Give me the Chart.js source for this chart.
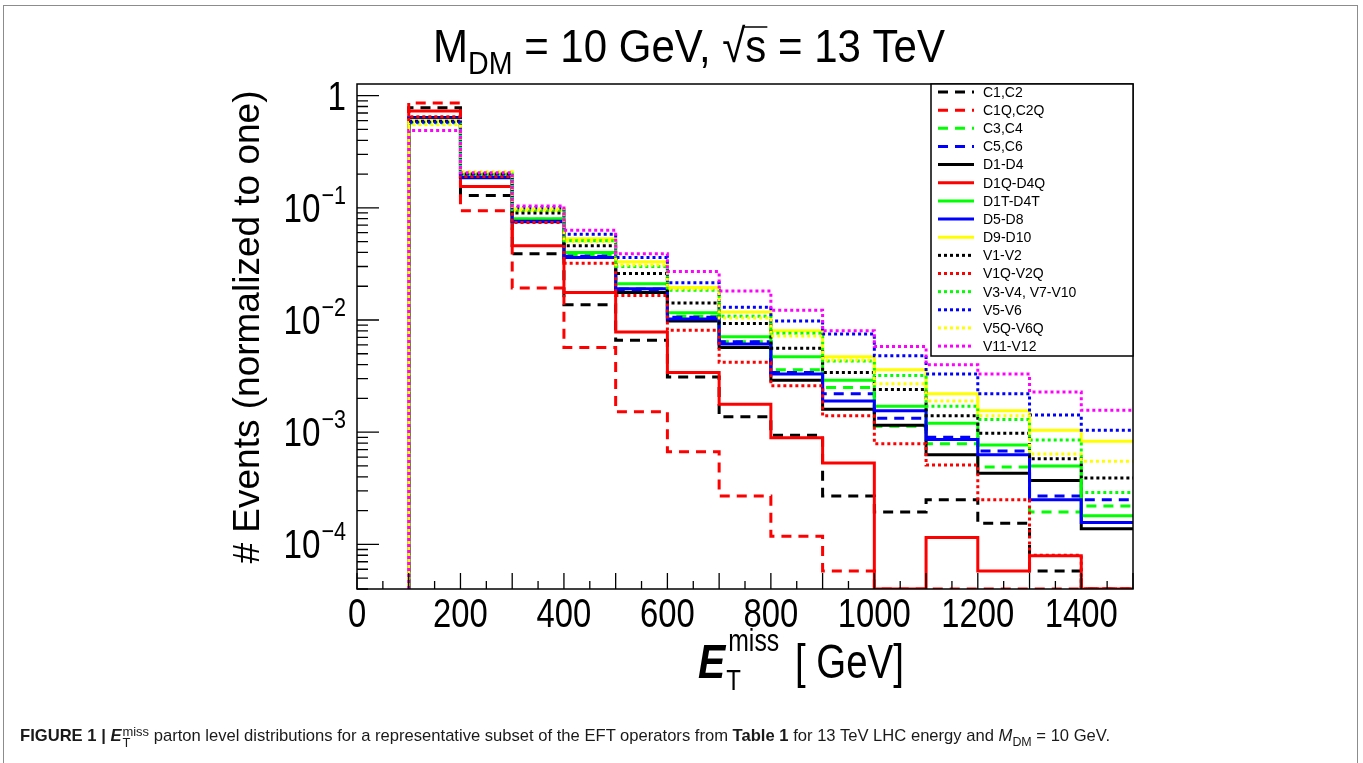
<!DOCTYPE html>
<html>
<head>
<meta charset="utf-8">
<script src="https://cdn.jsdelivr.net/npm/chart.js@4.4.0/dist/chart.umd.min.js"></script>
<style>
  body { margin: 0; background: #fff; }
  #wrap { position: relative; width: 1363px; height: 763px; overflow: hidden; }
  #frame { position: absolute; left: 3px; top: 5px; width: 1353px; height: 800px; border: 1.5px solid #8c8c8c; }
  canvas { position: absolute; left: 0; top: 0; }
  #caption { position: absolute; left: 20px; top: 726px; font: 16.6px "Liberation Sans", Arial, sans-serif; white-space: nowrap; color: #1a1a1a; }
  #caption .ss { display: inline-block; vertical-align: -0.45em; line-height: 0.85; font-size: 0.78em; margin-left: 1px; }
  #caption .ss span { display: block; }
  #caption sub { font-size: 0.75em; }
</style>
</head>
<body>
<div id="wrap">
  <div id="frame"></div>
  <canvas id="chart" width="1363" height="763"></canvas>
  <div id="caption"><b>FIGURE 1 | <i>E</i></b><span class="ss"><span>miss</span><span>T</span></span> parton level distributions for a representative subset of the EFT operators from <b>Table 1</b> for 13 TeV LHC energy and <i>M</i><sub>DM</sub> = 10 GeV.</div>
</div>
<script>
// bin edges in GeV, one value per bin below (100-200 ... 1400-1500)
const binEdges = [100, 200, 300, 400, 500, 600, 700, 800, 900, 1000, 1100, 1200, 1300, 1400, 1500];

const labels = ['C1,C2', 'C1Q,C2Q', 'C3,C4', 'C5,C6', 'D1-D4', 'D1Q-D4Q', 'D1T-D4T', 'D5-D8',
  'D9-D10', 'V1-V2', 'V1Q-V2Q', 'V3-V4, V7-V10', 'V5-V6', 'V5Q-V6Q', 'V11-V12'];

// normalized events per bin (0 = empty bin)
const c1c2   = [0.78, 0.129, 0.039, 0.0137, 0.0066, 0.0031, 0.00137, 0.00094, 0.00027, 0.000194, 0.00025, 0.000154, 0.000058, 0];
const c1qc2q = [0.86, 0.094, 0.0193, 0.0057, 0.00152, 0.00067, 0.00027, 0.000118, 0.000058, 0, 0, 0, 0, 0];
const c3c4   = [0.62, 0.19, 0.079, 0.038, 0.019, 0.0108, 0.0064, 0.0036, 0.0025, 0.00113, 0.00079, 0.00049, 0.000194, 0.00022];
const c5c6   = [0.64, 0.19, 0.077, 0.037, 0.0186, 0.0106, 0.0064, 0.0034, 0.0022, 0.00133, 0.0009, 0.00068, 0.00027, 0.00025];
const d1d4   = [0.64, 0.185, 0.075, 0.036, 0.0176, 0.0098, 0.0057, 0.0029, 0.0016, 0.00115, 0.00063, 0.00043, 0.00037, 0.000138];
const d1qd4q = [0.73, 0.155, 0.046, 0.0176, 0.0078, 0.0034, 0.00177, 0.00089, 0.00053, 0, 0.000115, 0.000058, 0.000079, 0];
const d1td4t = [0.62, 0.19, 0.080, 0.040, 0.021, 0.0116, 0.0071, 0.0047, 0.0029, 0.0017, 0.0012, 0.00077, 0.0005, 0.00018];
const d5d8   = [0.63, 0.187, 0.076, 0.036, 0.019, 0.0102, 0.0061, 0.0033, 0.0019, 0.00155, 0.00086, 0.00063, 0.00025, 0.000157];
const d9d10  = [0.60, 0.20, 0.095, 0.053, 0.033, 0.0195, 0.0118, 0.0080, 0.0047, 0.0036, 0.0022, 0.00155, 0.00104, 0.00083];
const v1v2   = [0.59, 0.20, 0.090, 0.046, 0.026, 0.0142, 0.0093, 0.0056, 0.0034, 0.0024, 0.0014, 0.00098, 0.00058, 0.00039];
const v1qv2q = [0.65, 0.19, 0.074, 0.032, 0.0165, 0.0081, 0.0042, 0.0026, 0.0014, 0.00079, 0.00051, 0.00025, 0.00008, 0];
const v3v10  = [0.57, 0.20, 0.096, 0.051, 0.030, 0.0184, 0.0108, 0.0076, 0.0043, 0.0032, 0.0017, 0.0013, 0.00085, 0.00029];
const v5v6   = [0.58, 0.20, 0.100, 0.058, 0.036, 0.0215, 0.0130, 0.0098, 0.0075, 0.0048, 0.0033, 0.0022, 0.00142, 0.00104];
const v5qv6q = [0.55, 0.21, 0.098, 0.050, 0.031, 0.019, 0.0104, 0.0072, 0.0044, 0.0027, 0.0019, 0.0014, 0.00064, 0.00055];
const v11v12 = [0.49, 0.205, 0.104, 0.063, 0.039, 0.027, 0.0181, 0.0122, 0.0080, 0.0058, 0.0040, 0.0033, 0.00228, 0.00157];

const xTickLabels = [0, 200, 400, 600, 800, 1000, 1200, 1400];
const yDecades = [0, -1, -2, -3, -4];

const Y_MIN = 4e-5;
const Y_MAX = 1.27;

const allSeries = [c1c2, c1qc2q, c3c4, c5c6, d1d4, d1qd4q, d1td4t, d5d8, d9d10, v1v2, v1qv2q, v3v10, v5v6, v5qv6q, v11v12];
const colors = ['#000', '#ff0000', '#00ff00', '#0000ff', '#000', '#ff0000', '#00ff00', '#0000ff', '#ffff00',
  '#000', '#ff0000', '#00ff00', '#0000ff', '#ffff00', '#ff00ff'];
const dashes = { dash: [10, 7], solid: [], dot: [3, 3] };
const styles = ['dash', 'dash', 'dash', 'dash', 'solid', 'solid', 'solid', 'solid', 'solid',
  'dot', 'dot', 'dot', 'dot', 'dot', 'dot'];

const FONT = '"Liberation Sans", Arial, Helvetica, sans-serif';

// histogram outline: empty bins sit on the axis floor like ROOT does
function histPoints(vals) {
  const pts = [{ x: binEdges[0], y: Y_MIN }];
  vals.forEach((v, i) => pts.push({ x: binEdges[i], y: v > 0 ? v : Y_MIN }));
  const last = vals[vals.length - 1];
  pts.push({ x: binEdges[binEdges.length - 1], y: last > 0 ? last : Y_MIN });
  return pts;
}

const datasets = allSeries.map((vals, i) => ({
  label: labels[i],
  data: histPoints(vals),
  borderColor: colors[i],
  borderWidth: 3,
  borderDash: dashes[styles[i]],
  stepped: 'before',
  pointRadius: 0,
  fill: false,
  tension: 0,
  order: allSeries.length - i
}));

function txt(ctx, s, x, y, size, opts) {
  opts = opts || {};
  ctx.save();
  ctx.font = (opts.style || '') + ' ' + size + 'px ' + FONT;
  ctx.translate(x, y);
  ctx.scale(opts.sx || 1, 1);
  ctx.textAlign = opts.align || 'left';
  ctx.textBaseline = opts.baseline || 'alphabetic';
  ctx.fillStyle = '#000';
  ctx.fillText(s, 0, 0);
  const w = ctx.measureText(s).width * (opts.sx || 1);
  ctx.restore();
  return w;
}

function measure(ctx, s, size, style) {
  ctx.save();
  ctx.font = (style || '') + ' ' + size + 'px ' + FONT;
  const w = ctx.measureText(s).width;
  ctx.restore();
  return w;
}

const rootFrame = {
  id: 'rootFrame',
  afterDatasetsDraw(chart) {
    const ctx = chart.ctx;
    const a = chart.chartArea;
    const xs = chart.scales.x, ys = chart.scales.y;

    // frame
    ctx.save();
    ctx.strokeStyle = '#000';
    ctx.lineWidth = 1.5;
    ctx.strokeRect(a.left, a.top, a.right - a.left, a.bottom - a.top);

    // x ticks (inward)
    ctx.lineWidth = 1.3;
    ctx.beginPath();
    for (let v = 0; v <= 1500; v += 50) {
      const px = xs.getPixelForValue(v);
      const len = v % 100 === 0 ? 16 : 8;
      ctx.moveTo(px, a.bottom);
      ctx.lineTo(px, a.bottom - len);
    }
    // y ticks (inward), log decades plus 2..9 minors
    for (let e = -5; e <= 0; e++) {
      for (let m = 1; m <= 9; m++) {
        const v = m * Math.pow(10, e);
        if (v < Y_MIN * 0.999 || v > Y_MAX) continue;
        const py = ys.getPixelForValue(v);
        const len = m === 1 ? 22 : 11;
        ctx.moveTo(a.left, py);
        ctx.lineTo(a.left + len, py);
      }
    }
    ctx.stroke();
    ctx.restore();

    // x tick labels
    xTickLabels.forEach(v => {
      txt(ctx, String(v), xs.getPixelForValue(v), 627, 41, { align: 'center', sx: 0.8 });
    });

    // y tick labels
    const right = 346;
    yDecades.forEach(n => {
      const py = ys.getPixelForValue(Math.pow(10, n));
      if (n === 0) {
        txt(ctx, '1', right, py + 14, 40, { align: 'right', sx: 0.83 });
      } else {
        const sup = '\u2212' + (-n);
        const w = txt(ctx, sup, right, py - 4, 26, { align: 'right', sx: 0.83 });
        txt(ctx, '10', right - w - 1, py + 14, 40, { align: 'right', sx: 0.83 });
      }
    });

    // y axis title
    ctx.save();
    ctx.translate(249, 327);
    ctx.rotate(-Math.PI / 2);
    txt(ctx, '# Events (normalized to one)', 0, 0, 37, { align: 'center', baseline: 'middle' });
    ctx.restore();

    // x axis title
    let x = 698;
    const wE = txt(ctx, 'E', x, 678, 48, { style: 'italic bold', sx: 0.85 });
    txt(ctx, 'miss', x + wE + 3, 651, 31, { sx: 0.8 });
    txt(ctx, 'T', x + wE + 1, 690, 30, { sx: 0.8 });
    txt(ctx, '[ GeV]', 795, 678, 48, { sx: 0.8 });

    // title
    const segs = [
      { t: 'M', s: 47, dy: 0 },
      { t: 'DM', s: 32, dy: 12 },
      { t: ' = 10 GeV, ', s: 47, dy: 0 },
      { t: '\u221A', s: 47, dy: 0 },
      { t: 's', s: 47, dy: 0, over: true },
      { t: ' = 13 TeV', s: 47, dy: 0 }
    ];
    let total = 0;
    segs.forEach(sg => { sg.w = measure(ctx, sg.t, sg.s); total += sg.w; });
    const sx = 512 / total;
    x = 433;
    segs.forEach(sg => {
      txt(ctx, sg.t, x, 62 + sg.dy, sg.s, { sx });
      if (sg.over) {
        ctx.save();
        ctx.strokeStyle = '#000';
        ctx.lineWidth = 1.5;
        ctx.beginPath();
        ctx.moveTo(x - 2, 27);
        ctx.lineTo(x + sg.w * sx + 1, 27);
        ctx.stroke();
        ctx.restore();
      }
      x += sg.w * sx;
    });
  },
  afterDraw(chart) {
    // legend box
    const ctx = chart.ctx;
    const a = chart.chartArea;
    const L = 931, T = a.top, R = a.right, B = 356;
    ctx.save();
    ctx.fillStyle = '#fff';
    ctx.fillRect(L, T, R - L, B - T);
    ctx.strokeStyle = '#000';
    ctx.lineWidth = 1.5;
    ctx.strokeRect(L, T, R - L, B - T);
    chart.data.datasets.forEach((ds, i) => {
      const y = 92 + i * 18.15;
      ctx.save();
      ctx.strokeStyle = ds.borderColor;
      ctx.lineWidth = 3;
      ctx.setLineDash(ds.borderDash);
      ctx.beginPath();
      ctx.moveTo(938, y);
      ctx.lineTo(974, y);
      ctx.stroke();
      ctx.restore();
      txt(ctx, ds.label, 983, y + 1, 14, { baseline: 'middle' });
    });
    ctx.restore();
  }
};

new Chart(document.getElementById('chart'), {
  type: 'line',
  data: { datasets },
  options: {
    responsive: false,
    animation: false,
    events: [],
    devicePixelRatio: 1,
    layout: { padding: { left: 357, right: 230, top: 84, bottom: 174 } },
    plugins: { legend: { display: false }, tooltip: { enabled: false }, title: { display: false } },
    scales: {
      x: { type: 'linear', min: 0, max: 1500, display: false },
      y: { type: 'logarithmic', min: Y_MIN, max: Y_MAX, display: false }
    }
  },
  plugins: [rootFrame]
});
</script>
</body>
</html>
